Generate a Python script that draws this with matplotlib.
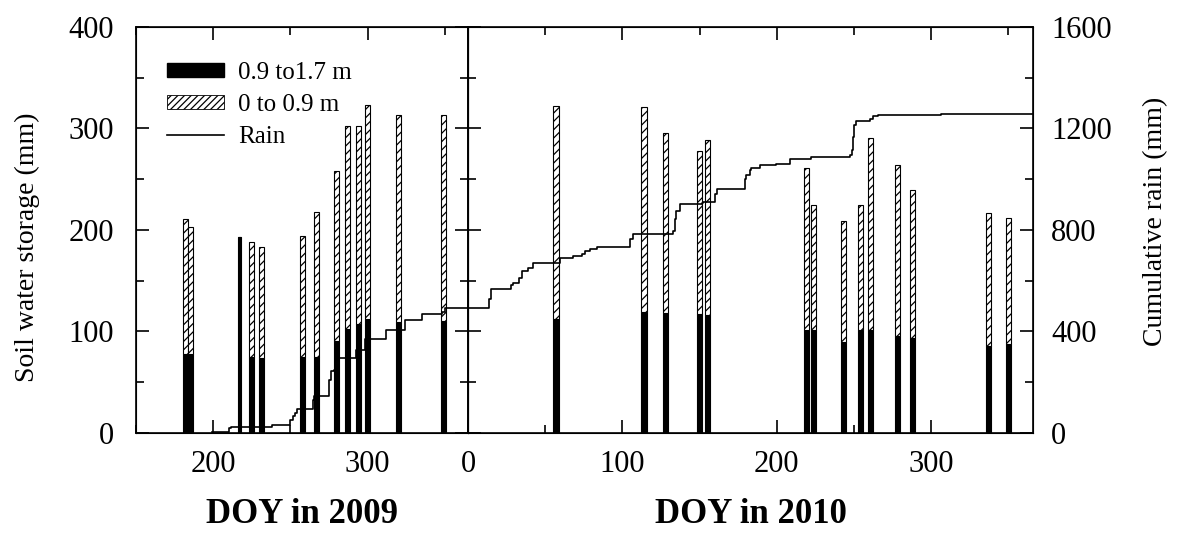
import numpy as np
import matplotlib.pyplot as plt
from matplotlib.patches import Patch
from matplotlib.lines import Line2D
from matplotlib.ticker import MultipleLocator

plt.rcParams['font.family'] = ['Liberation Serif', 'DejaVu Serif']
plt.rcParams['hatch.linewidth'] = 0.9

# soil water storage, 2009 (DOY, mm)
doy_2009 = [182, 185, 217, 225, 231, 258, 267, 280, 287, 294, 300, 320, 349]
deep_2009 = [78, 78, 193, 75, 74, 75, 75, 91, 102, 107, 112, 109, 110]
shallow_2009 = [133, 125, 0, 113, 109, 119, 143, 167, 200, 195, 211, 204, 203]

# soil water storage, 2010 (DOY, mm)
doy_2010 = [57, 114, 128, 150, 155, 219, 224, 243, 254, 261, 278, 288, 337, 350]
deep_2010 = [112, 119, 118, 117, 116, 101, 101, 90, 101, 101, 96, 94, 86, 88]
shallow_2010 = [210, 202, 178, 161, 173, 160, 124, 119, 124, 190, 168, 145, 131, 124]

# cumulative rain (mm)
rain_doy_2009 = [199.5, 210, 211.5, 238, 250, 251.5, 253, 254, 264.5, 265, 275,
                 276.4, 278, 280, 292.6, 298.5, 312, 324, 335, 348, 350, 365]
rain_cum_2009 = [5, 19, 25, 32, 50, 65, 78, 94, 131, 147, 210,
                 243, 250, 296, 326, 371, 404, 447, 470, 476, 492, 492]

rain_doy_2010 = [0, 13.5, 15, 27.6, 29.3, 33.2, 34.7, 39, 42.3, 59.5, 68.2, 73.6,
                 75.7, 79, 83.3, 105, 107, 132.9, 134, 135, 137.2, 151.3, 152.4,
                 160, 161, 179.3, 180.4, 182.5, 183.6, 189, 199.4, 208.4, 222.4,
                 247.2, 248.7, 249.4, 249.8, 251.6, 260.2, 262.3, 265.6, 306.6, 366]
rain_cum_2010 = [492, 527, 569, 582, 593, 612, 639, 652, 669, 688, 698, 705,
                 718, 725, 734, 764, 784, 797, 843, 876, 903, 907, 912,
                 942, 962, 1002, 1015, 1035, 1045, 1055, 1061, 1078, 1088,
                 1097, 1114, 1167, 1213, 1229, 1239, 1250, 1255, 1259, 1259]

# bar widths in days (the lone 2009 bar is drawn thinner)
width_2009 = [3.3, 3.3, 1.9, 3.3, 3.3, 3.3, 3.3, 3.3, 3.3, 3.3, 3.3, 3.3, 3.3]
width_2010 = 3.3

fig = plt.figure(figsize=(11.86, 5.43), dpi=100)
ax1 = fig.add_axes([0.1147, 0.2026, 0.2799, 0.7477])
ax2 = fig.add_axes([0.3946, 0.2026, 0.4764, 0.7477])
ax1r = ax1.twinx()
ax2r = ax2.twinx()

for ax, doy, deep, shallow, w in [(ax1, doy_2009, deep_2009, shallow_2009, width_2009),
                                  (ax2, doy_2010, deep_2010, shallow_2010, width_2010)]:
    ax.bar(doy, deep, width=w, color='black', edgecolor='black', linewidth=0.8)
    ax.bar(doy, shallow, bottom=deep, width=w, facecolor='white',
           edgecolor='black', hatch='////', linewidth=0.8)
    ax.set_ylim(0, 400)
    ax.yaxis.set_major_locator(MultipleLocator(100))
    ax.yaxis.set_minor_locator(MultipleLocator(50))
    ax.xaxis.set_major_locator(MultipleLocator(100))
    ax.xaxis.set_minor_locator(MultipleLocator(50))
    ax.tick_params(which='both', direction='in', top=True, bottom=True,
                   labelsize=22, width=1.2, color='black')
    ax.tick_params(which='major', length=9.5)
    ax.tick_params(which='minor', length=5.8)
    ax.tick_params(axis='x', pad=12)
    for s in ax.spines.values():
        s.set_linewidth(1.2)

ax1.set_xlim(150, 365)
ax2.set_xlim(0, 366)
ax1.tick_params(axis='y', which='both', left=True, right=True, pad=16)
ax2.tick_params(axis='y', which='both', left=True, right=False, labelleft=False)

# rain on twin axes
ax1r.set_ylim(0, 1600)
ax1r.set_yticks([])
ax1r.step(rain_doy_2009, rain_cum_2009, where='post', color='black', linewidth=1.2)

ax2r.set_ylim(0, 1600)
ax2r.step(rain_doy_2010, rain_cum_2010, where='post', color='black', linewidth=1.2)
ax2r.yaxis.set_major_locator(MultipleLocator(400))
ax2r.yaxis.set_minor_locator(MultipleLocator(200))
ax2r.tick_params(which='both', direction='in', labelsize=22, width=1.2, pad=13,
                 color='black')
ax2r.tick_params(which='major', length=9.5)
ax2r.tick_params(which='minor', length=5.8)

ax1.set_ylabel('Soil water storage (mm)', fontsize=20)
ax1.yaxis.set_label_coords(-0.289, 0.458)
ax2r.set_ylabel('Cumulative rain (mm)', fontsize=20)
ax2r.yaxis.set_label_coords(1.195, 0.52)

ax1.set_xlabel('DOY in 2009', fontsize=25, fontweight='bold', labelpad=14)
ax2.set_xlabel('DOY in 2010', fontsize=25, fontweight='bold', labelpad=14)

handles = [Patch(facecolor='black', edgecolor='black'),
           Patch(facecolor='white', edgecolor='black', hatch='/////', linewidth=0.6),
           Line2D([], [], color='black', linewidth=1.2)]
labels = ['0.9 to1.7 m', '0 to 0.9 m', 'Rain']
ax1r.legend(handles, labels, loc='upper left', bbox_to_anchor=(0.093, 0.913),
            frameon=False, fontsize=18, handlelength=2.28, handleheight=0.48,
            handletextpad=0.56, labelspacing=0.4, borderpad=0, borderaxespad=0)

fig.savefig('out.png', dpi=100)
